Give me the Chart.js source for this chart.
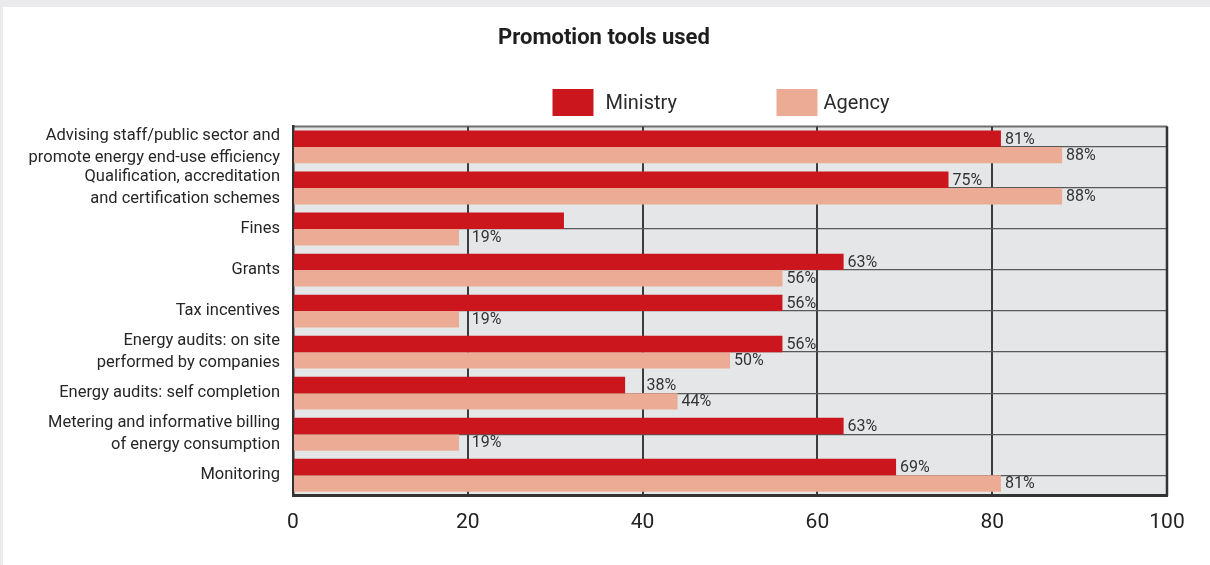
<!DOCTYPE html>
<html>
<head>
<meta charset="utf-8">
<title>Promotion tools used</title>
<script src="https://cdn.jsdelivr.net/npm/chart.js@4"></script>
<style>
  html, body { margin: 0; padding: 0; background: #ebebed; }
  #panel { position: absolute; left: 3px; top: 7px; width: 1207px; height: 558px; background: #ffffff; }
</style>
</head>
<body>
<div id="panel"><canvas id="chart"></canvas></div>
<script>
// Categories (multi-line where the label wraps)
const categories = [
  ['Advising staff/public sector and', 'promote energy end-use efficiency'],
  ['Qualification, accreditation', 'and certification schemes'],
  'Fines',
  'Grants',
  'Tax incentives',
  ['Energy audits: on site', 'performed by companies'],
  'Energy audits: self completion',
  ['Metering and informative billing', 'of energy consumption'],
  'Monitoring'
];

// Share of respondents using each tool (%)
const ministryValues = [81, 75, 31, 63, 56, 56, 38, 63, 69];
const agencyValues   = [88, 88, 19, 56, 19, 50, 44, 19, 81];

// Which bars carry a printed percentage
const ministryLabelled = [true, true, false, true, true, true, true, true, true];
const agencyLabelled   = [true, true, true, true, true, true, true, true, true];

const xTickValues = [0, 20, 40, 60, 80, 100];

const FONT = "Roboto, 'Open Sans', sans-serif";
const RED = '#cc161e';
const SALMON = '#ecab94';

// Plot background and frame
const plotFrame = {
  id: 'plotFrame',
  beforeDraw(chart) {
    const { ctx, chartArea: a } = chart;
    ctx.save();
    ctx.fillStyle = '#e5e6e8';
    ctx.fillRect(a.left, a.top, a.right - a.left, a.bottom - a.top);
    ctx.strokeStyle = '#6f6f6f';
    ctx.lineWidth = 2;
    ctx.beginPath();
    ctx.moveTo(a.left, a.top);
    ctx.lineTo(a.right, a.top);
    ctx.stroke();
    ctx.restore();
  },
  afterDraw(chart) {
    const { ctx, chartArea: a } = chart;
    ctx.save();
    ctx.strokeStyle = '#333333';
    ctx.lineWidth = 2.5;
    ctx.beginPath();
    ctx.moveTo(a.right, a.top);
    ctx.lineTo(a.right, a.bottom);
    ctx.stroke();
    ctx.restore();
  }
};

// Percentage labels at the end of each bar; a label that would sit on a
// vertical grid line is moved just past that line
const barValueLabels = {
  id: 'barValueLabels',
  afterDatasetsDraw(chart) {
    const { ctx } = chart;
    const xScale = chart.scales.x;
    const gridX = xScale.ticks.map(t => xScale.getPixelForValue(t.value));
    const flags = [ministryLabelled, agencyLabelled];
    ctx.save();
    ctx.font = '16px ' + FONT;
    ctx.fillStyle = '#333333';
    ctx.textAlign = 'left';
    ctx.textBaseline = 'middle';
    chart.data.datasets.forEach((ds, di) => {
      const meta = chart.getDatasetMeta(di);
      meta.data.forEach((bar, i) => {
        if (!flags[di][i]) return;
        const text = ds.data[i] + '%';
        const w = ctx.measureText(text).width;
        let x = bar.x + 4;
        gridX.forEach(g => {
          if (g > x - 2 && g < x + w) x = g + 4;
        });
        ctx.fillText(text, x, bar.y + 1);
      });
    });
    ctx.restore();
  }
};

// Legend row under the title: large swatches, wide spacing
const swatchLegend = {
  id: 'swatchLegend',
  afterDraw(chart) {
    const { ctx } = chart;
    const startX = chart.width / 2 - 54;
    const step = 224;
    const top = 82, boxW = 41, boxH = 27;
    ctx.save();
    ctx.font = '20px ' + FONT;
    ctx.textBaseline = 'middle';
    ctx.textAlign = 'left';
    chart.data.datasets.forEach((ds, i) => {
      const x = startX + i * step;
      ctx.fillStyle = ds.backgroundColor;
      ctx.fillRect(x, top, boxW, boxH);
      ctx.fillStyle = '#2b2b2b';
      ctx.fillText(ds.label, x + boxW + 12 - (i ? 6 : 0), top + boxH / 2 + 1);
    });
    ctx.restore();
  }
};

new Chart(document.getElementById('chart'), {
  type: 'bar',
  data: {
    labels: categories,
    datasets: [
      { label: 'Ministry', data: ministryValues, backgroundColor: RED,
        categoryPercentage: 0.8, barPercentage: 1.0 },
      { label: 'Agency', data: agencyValues, backgroundColor: SALMON,
        categoryPercentage: 0.8, barPercentage: 1.0 }
    ]
  },
  options: {
    indexAxis: 'y',
    responsive: true,
    maintainAspectRatio: false,
    animation: false,
    layout: { padding: { top: 0, right: 5, bottom: 16, left: 0 } },
    plugins: {
      legend: { display: false },
      tooltip: { enabled: false },
      title: {
        display: true,
        text: 'Promotion tools used',
        color: '#1e1e1e',
        font: { family: FONT, size: 22, weight: 'bold' },
        padding: { top: 18, bottom: 75 }
      }
    },
    scales: {
      x: {
        min: 0,
        max: 100,
        afterBuildTicks(scale) {
          scale.ticks = xTickValues.map(v => ({ value: v }));
        },
        afterFit(scale) { scale.paddingRight = 43; },
        grid: { color: '#3c3c3c', lineWidth: 2, drawTicks: false },
        border: { display: true, color: '#333333', width: 3 },
        ticks: {
          padding: 14,
          color: '#222222',
          font: { family: FONT, size: 21 }
        }
      },
      y: {
        afterFit(scale) {
          scale.width = 290;
          scale.paddingTop = 0;
          scale.paddingBottom = 0;
        },
        grid: { offset: false, color: '#585858', lineWidth: 1.3, drawTicks: false },
        border: { display: true, color: '#333333', width: 2.5 },
        ticks: {
          autoSkip: false,
          padding: 13,
          color: '#262626',
          font: { family: FONT, size: 16.5, lineHeight: 1.33 }
        }
      }
    }
  },
  plugins: [plotFrame, barValueLabels, swatchLegend]
});
</script>
</body>
</html>
